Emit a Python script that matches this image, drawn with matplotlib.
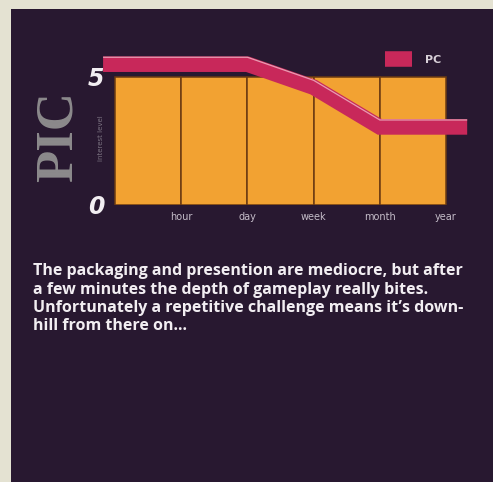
import matplotlib
matplotlib.use("Agg")
import matplotlib.pyplot as plt
from matplotlib.patches import Rectangle
from matplotlib.transforms import ScaledTranslation

# ---- data -------------------------------------------------------------
periods = ["hour", "day", "week", "month", "year"]
interest_pc = [5.5, 5.5, 4.6, 3.05, 3.05]
scale_max = 5
ytick_values = [0, 5]
series_label = "PC"
review_lines = [
    "The packaging and presention are mediocre, but after",
    "a few minutes the depth of gameplay really bites.",
    "Unfortunately a repetitive challenge means it\u2019s down-",
    "hill from there on...",
]

# ---- colours ----------------------------------------------------------
PAGE = "#e4e2d2"
PANEL = "#281830"
ORANGE = "#f2a232"
DIVIDER = "#6b3a12"
CRIMSON = "#c8285a"
HILITE = "#f0b8c8"
WHITE = "#f2eef2"
GREY = "#8c8a8c"

W, H = 493, 482
fig = plt.figure(figsize=(W / 100, H / 100), dpi=100)
fig.patch.set_facecolor(PAGE)
fig.add_artist(Rectangle((11 / W, 0), 1, (H - 9) / H, transform=fig.transFigure,
                         facecolor=PANEL, edgecolor="none", zorder=0))

# axes placed so that x=0..5 spans the orange block and y=0..5 its height
ax = fig.add_axes([81.9 / W, (H - 205) / H, 397.2 / W, 179.2 / H])
ax.set_facecolor("none")
ax.set_xlim(-0.5, 5.5)
ax.set_ylim(0, 7)
for side in ("top", "right", "bottom", "left"):
    ax.spines[side].set_visible(False)
ax.spines["left"].set_position(("data", -0.16))

# orange columns, one per time period
n = len(periods)
ax.bar([i + 0.5 for i in range(n)], [scale_max] * n, width=1.0,
       color=ORANGE, edgecolor=DIVIDER, linewidth=1.1, zorder=1)

# interest curve, overhanging the block slightly at both ends
xs = [-0.18] + list(range(1, n + 1)) + [n + 0.32]
ys = [interest_pc[0]] + interest_pc + [interest_pc[-1]]
line, = ax.plot(xs, ys, color=CRIMSON, linewidth=11.2, solid_capstyle="butt",
                solid_joinstyle="miter", label=series_label, zorder=3)
ax.plot(xs, ys, color=HILITE, linewidth=0.9, solid_capstyle="butt", zorder=4,
        alpha=0.8,
        transform=ax.transData + ScaledTranslation(0, 5.0 / 72, fig.dpi_scale_trans))

# axis labels
ax.set_xticks(range(1, n + 1))
ax.set_xticklabels(periods, fontsize=7, color="#c4bcc8")
ax.tick_params(axis="x", length=0, pad=5)
ax.set_yticks(ytick_values)
ax.set_yticklabels([str(v) for v in ytick_values], fontsize=17,
                   fontweight="bold", fontstyle="italic", color=WHITE)
ax.tick_params(axis="y", length=0, pad=0)

# legend
ax.legend(handles=[line], labels=[series_label], loc="center left",
          bbox_to_anchor=(385 / W, 1 - 60 / H), bbox_transform=fig.transFigure,
          frameon=False, borderpad=0, borderaxespad=0, handlelength=2.43,
          handletextpad=1.17, prop={"size": 8, "weight": "bold"},
          labelcolor="#d8d0d8")

# vertical captions
fig.text(59 / W, 1 - 137 / H, "PIC", rotation=90, ha="center", va="center",
         fontsize=38, fontweight="bold", fontstretch="condensed", color=GREY,
         family="Liberation Serif")
fig.text(101 / W, 1 - 138 / H, "interest level", rotation=90, ha="center",
         va="center", fontsize=5, color="#7a7280")

# review text
for k, txt in enumerate(review_lines):
    fig.text(33 / W, 1 - (275 + 18.5 * k) / H, txt, ha="left", va="baseline",
             fontsize=11.5, fontweight="bold", color=WHITE, family="Open Sans")

fig.savefig("out.png", dpi=100, facecolor=fig.get_facecolor())
